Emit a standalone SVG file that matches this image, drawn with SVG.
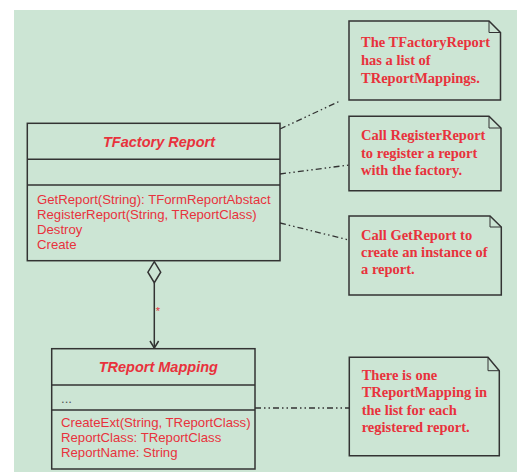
<svg xmlns="http://www.w3.org/2000/svg" width="517" height="472" viewBox="0 0 517 472">
<defs>
<style>
.box{fill:#cce5d4;stroke:#333;stroke-width:1.5}
.ln{stroke:#333;stroke-width:1.5;fill:none}
.dd{stroke:#333;stroke-width:1.3;fill:none;stroke-dasharray:6 3 1.5 3 1.5 3}
.title{font-family:"Liberation Sans",Arial,sans-serif;font-weight:bold;font-style:italic;font-size:14.5px;fill:#e8323c;text-anchor:middle}
.op{font-family:"Liberation Sans",Arial,sans-serif;font-size:13.2px;fill:#e8323c}
.nt{font-family:"Liberation Serif","Times New Roman",serif;font-weight:bold;font-size:14.5px;fill:#e8323c}
</style>
</defs>
<rect x="0" y="0" width="517" height="472" fill="#ffffff"/>
<rect x="14" y="10" width="503" height="462" fill="#cce5d4"/>

<g id="connectors">
<path class="dd" d="M280,129 L340,101"/>
<path class="dd" d="M280,174 L349,165"/>
<path class="dd" d="M280,223 L349,240"/>
<path class="dd" d="M255,408 L349,408"/>
<path class="ln" d="M154.3,282.7 V348"/>
<path class="ln" d="M154.3,261.7 L160.7,272.2 L154.3,282.7 L147.9,272.2 Z"/>
<path class="ln" d="M150,341 L154.3,348 L158.6,341"/>
<text x="158" y="315" style="font-family:'Liberation Sans',Arial,sans-serif;font-size:11px;fill:#e8323c" text-anchor="middle">*</text>
</g>

<g id="TFactoryReport">
<rect class="box" x="27.3" y="123.3" width="252.7" height="137.4"/>
<path class="ln" d="M27.3,159.3 H280 M27.3,185 H280"/>
<text class="title" x="159" y="147">TFactory Report</text>
<text class="op" x="37" y="204">GetReport(String): TFormReportAbstact</text>
<text class="op" x="37" y="219">RegisterReport(String, TReportClass)</text>
<text class="op" x="37" y="234">Destroy</text>
<text class="op" x="37" y="249">Create</text>
</g>

<g id="TReportMapping">
<rect class="box" x="51.7" y="348.7" width="203.3" height="120.3"/>
<path class="ln" d="M51.7,385 H255 M51.7,410 H255"/>
<text class="title" x="158.3" y="372">TReport Mapping</text>
<text class="op" x="61" y="403" style="fill:#555">...</text>
<text class="op" x="61" y="427">CreateExt(String, TReportClass)</text>
<text class="op" x="61" y="442">ReportClass: TReportClass</text>
<text class="op" x="61" y="457">ReportName: String</text>
</g>

<g id="note1">
<path class="box" d="M349,21 H489 L500.5,32.5 V100 H349 Z"/>
<path class="ln" style="stroke-width:1" d="M489,21 V32.5 H500.5"/>
<text class="nt" x="361" y="47">The TFactoryReport</text>
<text class="nt" x="361" y="65">has a list of</text>
<text class="nt" x="361" y="82.5">TReportMappings.</text>
</g>

<g id="note2">
<path class="box" d="M349,116.3 H489 L501,128 V190.7 H349 Z"/>
<path class="ln" style="stroke-width:1" d="M489,116.3 V128 H501"/>
<text class="nt" x="361" y="140">Call RegisterReport</text>
<text class="nt" x="361" y="157.5">to register a report</text>
<text class="nt" x="361" y="174.5">with the factory.</text>
</g>

<g id="note3">
<path class="box" d="M349,216 H490 L501.3,227 V295 H349 Z"/>
<path class="ln" style="stroke-width:1" d="M490,216 V227 H501.3"/>
<text class="nt" x="361" y="240">Call GetReport to</text>
<text class="nt" x="361" y="257.3">create an instance of</text>
<text class="nt" x="361" y="274">a report.</text>
</g>

<g id="note4">
<path class="box" d="M349.3,357.3 H488 L499.3,370.7 V455.7 H349.3 Z"/>
<path class="ln" style="stroke-width:1" d="M488,357.3 V370.7 H499.3"/>
<text class="nt" x="361.7" y="380">There is one</text>
<text class="nt" x="361.7" y="397">TReportMapping in</text>
<text class="nt" x="361.7" y="414.5">the list for each</text>
<text class="nt" x="361.7" y="432">registered report.</text>
</g>
</svg>
